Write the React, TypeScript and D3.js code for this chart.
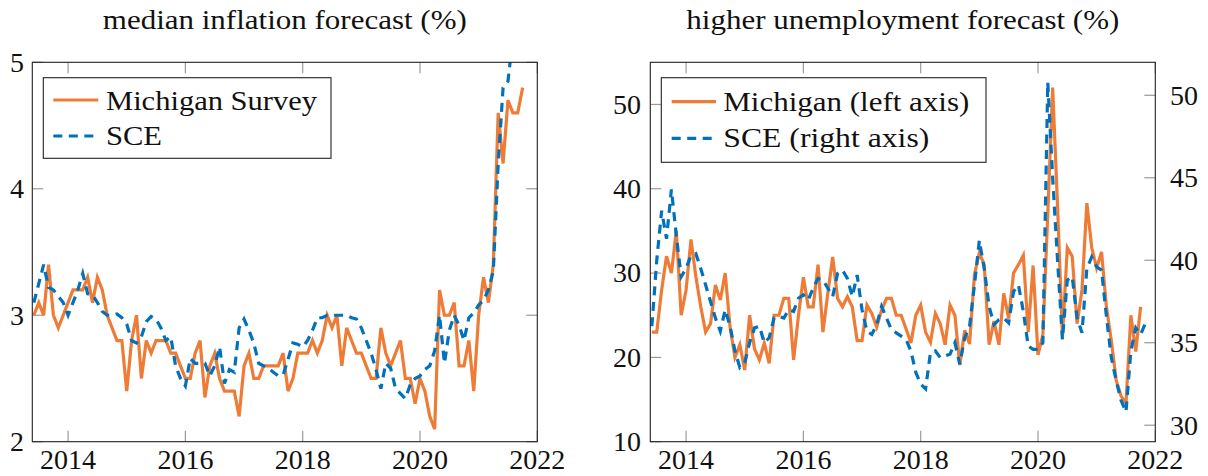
import React from 'react';
import * as d3 from 'd3';

// ---- data (monthly, first observation June 2013) ----
const startYear = 2013;
const startMonth = 6;

// Michigan survey median 1-yr inflation expectation (%), Jun 2013 - Oct 2021
const inflationMichigan = [
  3.0, 3.1, 3.0, 3.4, 3.0, 2.9, 3.0, 3.1, 3.2, 3.2,
  3.2, 3.3, 3.1, 3.3, 3.2, 3.0, 2.9, 2.8, 2.8, 2.4,
  2.8, 3.0, 2.5, 2.8, 2.7, 2.8, 2.8, 2.8, 2.7, 2.7,
  2.6, 2.5, 2.5, 2.7, 2.8, 2.35, 2.6, 2.7, 2.5, 2.4,
  2.4, 2.4, 2.2, 2.6, 2.7, 2.5, 2.5, 2.6, 2.6, 2.6,
  2.6, 2.7, 2.4, 2.5, 2.7, 2.7, 2.7, 2.8, 2.7, 2.8,
  3.0, 2.9, 3.0, 2.6, 2.9, 2.8, 2.7, 2.7, 2.6, 2.5,
  2.5, 2.9, 2.7, 2.6, 2.7, 2.8, 2.5, 2.5, 2.3, 2.5,
  2.4, 2.2, 2.1, 3.2, 3.0, 3.0, 3.1, 2.6, 2.6, 2.8,
  2.4, 3.0, 3.3, 3.1, 3.4, 4.6, 4.2, 4.7, 4.6, 4.6,
  4.8,
];

// SCE median 1-yr inflation expectation (%)
const inflationSCE = [
  3.1, 3.25, 3.4, 3.22, 3.2, 3.15, 3.1, 3.0, 3.1, 3.2,
  3.33, 3.17, 3.16, 3.1, 3.03, 3.0, 3.0, 3.01, 2.98, 2.93,
  2.8, 2.78, 2.83, 2.95, 2.99, 2.97, 2.9, 2.8, 2.83, 2.6,
  2.5, 2.44, 2.66, 2.62, 2.62, 2.62, 2.52, 2.6, 2.75, 2.46,
  2.57, 2.55, 2.9, 2.97, 2.88, 2.78, 2.62, 2.6, 2.58, 2.55,
  2.52, 2.53, 2.65, 2.78, 2.77, 2.75, 2.8, 2.88, 2.98, 2.98,
  3.0, 3.0, 3.0, 3.0, 3.0, 2.98, 2.97, 2.9, 2.8, 2.7,
  2.57, 2.42, 2.62, 2.58, 2.42, 2.38, 2.34, 2.45, 2.5, 2.52,
  2.57, 2.6, 2.72, 3.0, 2.62, 2.88, 3.0, 2.92, 2.8, 2.98,
  3.02, 3.08, 3.12, 3.2, 3.35, 4.2, 4.8, 4.85, 5.2, 5.3,
  5.6,
];

// Michigan: share expecting higher unemployment (%), left axis
const unemploymentMichigan = [
  23, 23, 28, 32, 30, 35, 25, 28, 34, 29.6,
  26, 23, 24, 28.6, 26.8, 30, 23.6, 20, 21.5, 18.5,
  25, 21, 19.7, 21.7, 19.3, 25, 25, 27, 27, 19.7,
  25, 29.5, 26, 26, 31, 23, 27.6, 31.9, 27, 26,
  27.2, 26, 22, 22, 26.2, 25.2, 23.6, 25.6, 27, 27,
  25, 25, 23.4, 21.7, 25, 26.2, 23, 21.8, 25.2, 24,
  21.5, 26.2, 25, 19.1, 23.2, 21.6, 29.8, 32.4, 31, 21.5,
  24.3, 21.5, 27.6, 24.6, 30, 31, 32.1, 23, 30.9, 20.3,
  22.7, 37, 52, 38, 22.5, 33, 32, 24, 28, 38.3,
  33, 30.6, 32.5, 26, 22, 17.3, 15.4, 14.5, 25, 20.7,
  26,
];

// SCE: probability unemployment higher (%), right axis
const unemploymentSCE = [
  36, 40, 43, 41.3, 44.3, 41.5, 39, 39.5, 40.3, 40.4,
  39.5, 38.5, 37.5, 36.5, 35.7, 37, 36, 34.5, 33.5, 33.8,
  35, 35.9, 36, 35, 35.3, 36.5, 36.6, 36.5, 37, 36.9,
  37.7, 37.9, 37.6, 38.3, 38.9, 38.8, 38.3, 37.8, 39.2, 39.4,
  38.9, 37.8, 39.1, 37, 35.7, 35.5, 36.1, 37.2, 36.5, 35.8,
  35.6, 35.4, 35.2, 34.5, 33.2, 32.5, 32.2, 34.4, 34.5, 34.1,
  34.2, 34.3, 35, 33.7, 35.3, 36, 38.5, 41.2, 39.5, 37.2,
  36.1, 36.4, 36.5, 36.2, 38.1, 38.5, 36.9, 34.8, 34.6, 34.6,
  35, 50.8, 45, 40, 35.2, 38.8, 39, 36.5, 35.6, 39.5,
  40.2, 39.6, 39.4, 36.6, 34.1, 32.7, 31.5, 30.8, 34.5, 35.9,
  35.5, 36.2,
];

const yearTicks = [2014, 2016, 2018, 2020, 2022];
const inflationTicks = [2, 3, 4, 5];
const unempLeftTicks = [10, 20, 30, 40, 50];
const unempRightTicks = [30, 35, 40, 45, 50];

// ---- styles ----
const ORANGE = '#EF7C36';
const BLUE = '#0072BD';
const FONT = '"Liberation Serif", "Times New Roman", serif';
const FS = 28;
const TICK = '#9a9a9a';
const TICKLEN = 11;
const LW = 3.2;
const DASH = '9 6.5';

const W = 1208;
const H = 476;
const TOP = 62.3;
const BOTTOM = 441.7;

const monthTime = (i: number) => startYear + (startMonth - 1 + i) / 12;
const xDomain: [number, number] = [2013.39, 2022];

function Series({ data, x, y, color, dashed, clip }: any) {
  const line = d3
    .line<number>()
    .x((_, i) => x(monthTime(i)))
    .y((d) => y(d));
  return (
    <path
      d={line(data) || ''}
      fill="none"
      stroke={color}
      strokeWidth={LW}
      strokeLinejoin="miter"
      strokeMiterlimit={4}
      strokeDasharray={dashed ? DASH : undefined}
      clipPath={`url(#${clip})`}
    />
  );
}

function Frame({ x0, x1, id }: any) {
  return (
    <>
      <defs>
        <clipPath id={id}>
          <rect x={x0} y={TOP} width={x1 - x0} height={BOTTOM - TOP} />
        </clipPath>
      </defs>
    </>
  );
}

function XTicks({ x }: any) {
  return (
    <g>
      {yearTicks.map((t) => (
        <g key={t}>
          <line x1={x(t)} x2={x(t)} y1={BOTTOM} y2={BOTTOM - TICKLEN} stroke={TICK} strokeWidth={1.2} />
          <line x1={x(t)} x2={x(t)} y1={TOP} y2={TOP + TICKLEN} stroke={TICK} strokeWidth={1.2} />
          <text x={x(t)} y={469} textAnchor="middle" fontFamily={FONT} fontSize={FS} fill="#111">
            {t}
          </text>
        </g>
      ))}
    </g>
  );
}

function YTicks({ y, ticks, x0, side, labelX, mirror, x1 }: any) {
  return (
    <g>
      {ticks.map((t: number) => (
        <g key={t}>
          <line
            x1={x0}
            x2={side === 'left' ? x0 + TICKLEN : x0 - TICKLEN}
            y1={y(t)}
            y2={y(t)}
            stroke={TICK}
            strokeWidth={1.2}
          />
          {mirror && (
            <line x1={x1} x2={x1 - TICKLEN} y1={y(t)} y2={y(t)} stroke={TICK} strokeWidth={1.2} />
          )}
          <text
            x={labelX}
            y={y(t) + 9.3}
            textAnchor={side === 'left' ? 'end' : 'start'}
            fontFamily={FONT}
            fontSize={FS}
            fill="#111"
          >
            {t}
          </text>
        </g>
      ))}
    </g>
  );
}

function Legend({ bx, by, bw, bh, sx0, sx1, tx, rows }: any) {
  return (
    <g>
      <rect x={bx} y={by} width={bw} height={bh} fill="white" stroke="#222" strokeWidth={1.1} />
      {rows.map((r: any, i: number) => (
        <g key={i}>
          <line
            x1={sx0}
            x2={sx1}
            y1={r.ly}
            y2={r.ly}
            stroke={r.color}
            strokeWidth={LW}
            strokeDasharray={r.dashed ? DASH : undefined}
          />
          <text
            x={tx}
            y={r.ty}
            fontFamily={FONT}
            fontSize={FS}
            fill="#111"
            textLength={r.tl}
            lengthAdjust="spacingAndGlyphs"
          >
            {r.label}
          </text>
        </g>
      ))}
    </g>
  );
}

export default function App() {
  const xL = d3.scaleLinear().domain(xDomain).range([32.3, 537.3]);
  const xR = d3.scaleLinear().domain(xDomain).range([650.3, 1155.3]);
  const yInf = d3.scaleLinear().domain([2, 5]).range([BOTTOM, TOP]);
  const yUL = d3.scaleLinear().domain([10, 55]).range([BOTTOM, TOP]);
  const yUR = d3.scaleLinear().domain([29, 52]).range([BOTTOM, TOP]);

  return (
    <svg
      width={W}
      height={H}
      viewBox={`0 0 ${W} ${H}`}
      style={{ position: 'absolute', left: 0, top: 0, background: 'white' }}
    >
      <rect x={0} y={0} width={W} height={H} fill="white" />
      <Frame x0={32.3} x1={537.3} id="clipL" />
      <Frame x0={650.3} x1={1155.3} id="clipR" />

      {/* titles */}
      <text x={284.8} y={29} textAnchor="middle" fontFamily={FONT} fontSize={FS} fill="#111"
        textLength={364} lengthAdjust="spacingAndGlyphs">
        median inflation forecast (%)
      </text>
      <text x={902.8} y={29} textAnchor="middle" fontFamily={FONT} fontSize={FS} fill="#111"
        textLength={433} lengthAdjust="spacingAndGlyphs">
        higher unemployment forecast (%)
      </text>

      {/* left panel */}
      <XTicks x={xL} />
      <YTicks y={yInf} ticks={inflationTicks} x0={32.3} x1={537.3} mirror side="left" labelX={24} />
      <Series data={inflationMichigan} x={xL} y={yInf} color={ORANGE} clip="clipL" />
      <Series data={inflationSCE} x={xL} y={yInf} color={BLUE} dashed clip="clipL" />
      <rect x={32.3} y={TOP} width={505} height={BOTTOM - TOP} fill="none" stroke="#222" strokeWidth={1.1} />
      <Legend
        bx={43.3} by={77.7} bw={287.7} bh={80.6}
        sx0={53.3} sx1={98.3} tx={106}
        rows={[
          { label: 'Michigan Survey', color: ORANGE, ly: 100, ty: 109.5, tl: 211 },
          { label: 'SCE', color: BLUE, dashed: true, ly: 136, ty: 145, tl: 56 },
        ]}
      />

      {/* right panel */}
      <XTicks x={xR} />
      <YTicks y={yUL} ticks={unempLeftTicks} x0={650.3} side="left" labelX={641} />
      <YTicks y={yUR} ticks={unempRightTicks} x0={1155.3} side="right" labelX={1170} />
      <Series data={unemploymentMichigan} x={xR} y={yUL} color={ORANGE} clip="clipR" />
      <Series data={unemploymentSCE} x={xR} y={yUR} color={BLUE} dashed clip="clipR" />
      <rect x={650.3} y={TOP} width={505} height={BOTTOM - TOP} fill="none" stroke="#222" strokeWidth={1.1} />
      <Legend
        bx={661.3} by={77.7} bw={324.7} bh={84.6}
        sx0={671.7} sx1={716} tx={723.3}
        rows={[
          { label: 'Michigan (left axis)', color: ORANGE, ly: 101.7, ty: 110.5, tl: 246 },
          { label: 'SCE (right axis)', color: BLUE, dashed: true, ly: 138.3, ty: 147, tl: 206 },
        ]}
      />
    </svg>
  );
}
